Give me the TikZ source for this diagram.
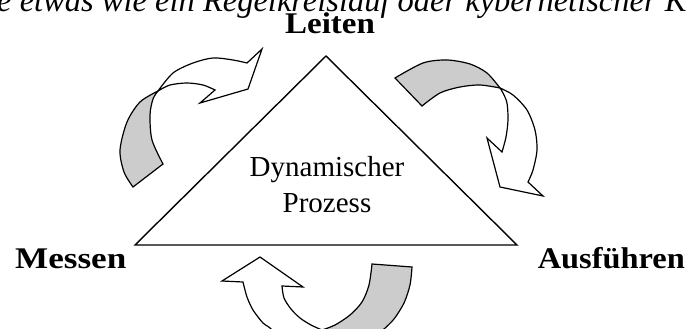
\documentclass[tikz,border=0pt]{standalone}
\usepackage{fontspec}
\newfontfamily\timesfont{Liberation Serif}
\usepackage{graphicx}
\begin{document}
\begin{tikzpicture}[x=1pt,y=-1pt,
  ribbon/.style={draw=black,line width=1.2pt,line join=miter},
  back/.style={ribbon,fill=black!20},
  front/.style={ribbon,fill=white},
  lbl/.style={inner sep=0pt,font=\timesfont\fontsize{30}{36}\selectfont\bfseries},
  proc/.style={inner sep=0pt,font=\timesfont\fontsize{29}{35}\selectfont}]
\useasboundingbox (0,0) rectangle (694,329);
\clip (0,0) rectangle (694,329);
% cut-off line of text at the top
\node[inner sep=0pt,anchor=base west,font=\timesfont\itshape\fontsize{32.5}{38}\selectfont] (toptext) at (-3,12) {e etwas wie ein Regelkreislauf oder kybernetischer K};
% triangle
\draw[line width=1.4pt,line join=miter] (326,56) -- (517,245) -- (135,245) -- cycle;
\node[proc,anchor=base] (dyn) at (327,176) {Dynamischer};
\node[proc,anchor=base] (proz) at (327,212) {Prozess};
% labels
\node[lbl,anchor=base] (leiten) at (330,34) {\scalebox{1.1}[1]{Leiten}};
\node[lbl,anchor=base west] (messen) at (15,268) {\scalebox{1.17}[1]{Messen}};
\node[lbl,anchor=base east] (ausf) at (685,268) {\scalebox{1.08}[1]{Ausführen}};
% top-left arrow
\path[back] (133,187) -- (163,164) -- plot[smooth] coordinates {(163,164) (152,140) (150,115) (153,99) (158,91)}
  -- plot[smooth] coordinates {(158,91) (140,102) (127,122) (120,150) (124,172) (133,187)} -- cycle;
\path[front] (158,91) -- plot[smooth] coordinates {(158,91) (173,73) (193,63) (213,58) (233,60) (247,63)}
  -- (262,49) -- (248,89) -- (200,103) -- (215,90)
  -- plot[smooth] coordinates {(215,90) (203,85) (187,83) (170,85) (158,91)} -- cycle;
% right arrow
\path[back] (395,78) -- (422,106) -- plot[smooth] coordinates {(422,106) (440,93) (460,87) (480,85) (500,88)}
  -- plot[smooth] coordinates {(500,88) (487,73) (470,64) (447,60) (423,63) (395,78)} -- cycle;
\path[front] (500,88) -- plot[smooth] coordinates {(500,88) (513,95) (527,110) (535,130) (537,150) (533,170) (528,182)}
  -- (543,196) -- (500,187) -- (487,138) -- (502,152)
  -- plot[smooth] coordinates {(502,152) (506,137) (508,120) (507,103) (503,93) (500,88)} -- cycle;
% bottom arrow
\path[back] (372,264) -- (412,267) -- plot[smooth] coordinates {(412,267) (410,285) (404,303) (394,319) (383,330) (370,342)}
  -- (340,345) -- (322,330)
  -- plot[smooth] coordinates {(322,330) (335,325) (350,315) (362,302) (369,285) (372,264)} -- cycle;
\path[front] (243,282) -- (222,281) -- (260,257) -- (303,287) -- (282,286)
  -- plot[smooth] coordinates {(282,286) (284,298) (291,309) (300,318) (311,325) (322,330)}
  -- (315,345) -- (285,342)
  -- plot[smooth] coordinates {(285,342) (270,328) (263,323) (253,310) (247,297) (243,282)} -- cycle;
\end{tikzpicture}
\end{document}
